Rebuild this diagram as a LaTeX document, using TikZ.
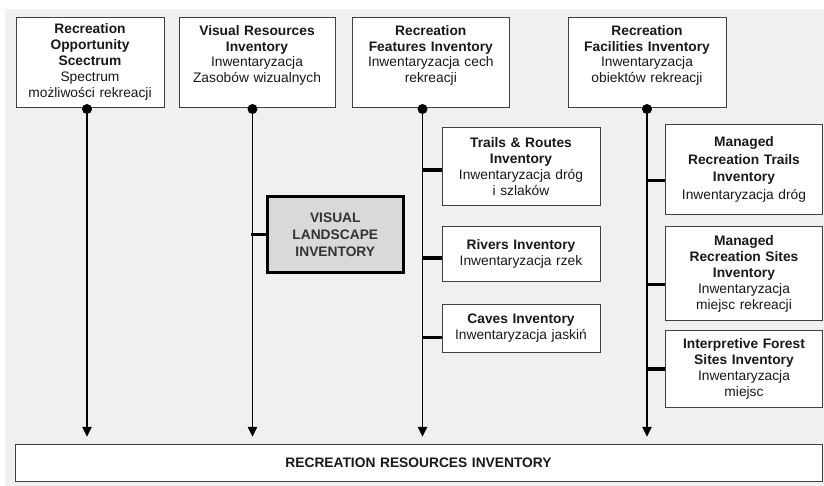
\documentclass[tikz,border=0pt]{standalone}
\usepackage{fontspec}
\setmainfont{Liberation Sans}
\usetikzlibrary{arrows.meta}

\begin{document}
\begin{tikzpicture}[
  box/.style={draw=black!75, line width=0.6pt, fill=white, align=center, inner sep=0pt,
    text=black!90, font=\fontsize{9.8}{11.3}\selectfont},
  flow/.style={line width=1.4pt, -{Triangle[length=7pt,width=6.5pt]}, shorten >=0.175cm},
  stub/.style={line width=2.2pt}
]
\useasboundingbox (0,0) rectangle (20.6,12.15);
\fill[gray!12] (0.125,0) rectangle (20.6,11.925); %background

% top row
\node[box, text width=3.7cm, minimum height=2.25cm] (ros) at (2.25,10.6)
  {\textbf{Recreation}\\ \textbf{Opportunity}\\ \textbf{Scectrum}\\ Spectrum\\ możliwości rekreacji};
\node[box, text width=3.9cm, minimum height=2.25cm] (vri) at (6.425,10.6)
  {\textbf{Visual Resources}\\ \textbf{Inventory}\\ Inwentaryzacja\\ Zasobów wizualnych\\ \mbox{}};
\node[box, text width=3.91cm, minimum height=2.25cm] (rfi) at (10.77,10.6)
  {\textbf{Recreation}\\ \textbf{Features Inventory}\\ Inwentaryzacja cech\\ rekreacji\\ \mbox{}};
\node[box, text width=3.95cm, minimum height=2.25cm] (rffi) at (16.175,10.6)
  {\textbf{Recreation}\\ \textbf{Facilities Inventory}\\ Inwentaryzacja\\ obiektów rekreacji\\ \mbox{}};

% bottom
\node[box, text width=20.175cm, minimum height=0.9375cm] (rri) at (10.4625,0.575)
  {\textbf{RECREATION RESOURCES INVENTORY}};

% vertical lines
\coordinate (l1) at (2.175,9.425);
\coordinate (l2) at (6.3125,9.425);
\coordinate (l3) at (10.5625,9.425);
\coordinate (l4) at (16.175,9.425);
\foreach \l in {l1,l2,l3,l4}{
  \draw[flow] (\l) -- (\l |- rri.north);
  \fill (\l) circle (0.125);
}

% visual landscape
\node[box, draw=black, line width=2.1pt, fill=gray!30, text=black!80, text width=3.4cm,
  minimum height=1.89cm, font=\fontsize{9.8}{12.2}\selectfont] (vli) at (8.3825,6.2875)
  {\textbf{VISUAL}\\ \textbf{LANDSCAPE}\\ \textbf{INVENTORY}};
\draw[stub] (vli.west) -- ++(-0.36,0);

% features children
\node[box, text width=3.95cm, minimum height=1.9625cm] (trails) at (13.025,7.9875)
  {\textbf{Trails \& Routes}\\ \textbf{Inventory}\\ Inwentaryzacja dróg\\ i szlaków};
\node[box, text width=3.95cm, minimum height=1.375cm] (rivers) at (13.025,5.8)
  {\textbf{Rivers Inventory}\\ Inwentaryzacja rzek};
\node[box, text width=3.95cm, minimum height=1.2cm] (caves) at (13.025,3.9425)
  {\textbf{Caves Inventory}\\ Inwentaryzacja jaskiń};
\draw[stub] ([yshift=-0.0875cm]trails.west) -- ++(-0.49,0);
\draw[stub] ([yshift=-0.1cm]rivers.west) -- ++(-0.49,0);
\draw[stub] ([yshift=-0.235cm]caves.west) -- ++(-0.49,0);

% facilities children
\node[box, text width=3.935cm, minimum height=2.26cm, font=\fontsize{9.8}{12.6}\selectfont] (mrt) at (18.6,7.9125)
  {\textbf{Managed}\\ \textbf{Recreation Trails}\\ \textbf{Inventory}\\ Inwentaryzacja dróg};
\node[box, text width=3.935cm, minimum height=2.35cm] (mrs) at (18.6,5.3075)
  {\textbf{Managed}\\ \textbf{Recreation Sites}\\ \textbf{Inventory}\\ Inwentaryzacja\\ miejsc rekreacji};
\node[box, text width=3.935cm, minimum height=1.915cm] (ifs) at (18.6,2.925)
  {\textbf{Interpretive Forest}\\ \textbf{Sites Inventory}\\ Inwentaryzacja\\ miejsc};
\draw[stub] ([yshift=-0.28cm]mrt.west) -- ++(-0.45,0);
\draw[stub] ([yshift=-0.265cm]mrs.west) -- ++(-0.45,0);
\draw[stub] (ifs.west) -- ++(-0.45,0);

\end{tikzpicture}
\end{document}
